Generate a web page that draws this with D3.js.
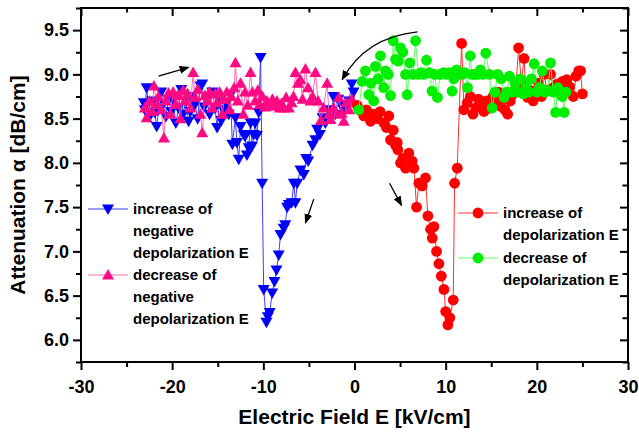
<!DOCTYPE html>
<meta charset="utf-8">
<style>
  body { margin: 0; background: #fff; }
  svg text { font-family: "Liberation Sans", Arial, sans-serif; font-weight: bold; fill: #000; }
</style>
<div id="chart"></div>
<script src="https://d3js.org/d3.v7.min.js"></script>
<script>
// increase of negative depolarization E  (blue, field swept 0 -> -23)
const incNeg = [
  [-0.1,8.8],[-0.3,8.89],[-0.6,8.7],[-0.9,8.62],[-1.2,8.6],[-1.5,8.66],[-1.8,8.72],[-2.1,8.55],
  [-2.3,8.75],[-2.6,8.5],[-2.9,8.6],[-3.2,8.45],[-3.5,8.51],[-3.8,8.32],[-4.1,8.38],[-4.3,8.26],
  [-4.6,8.2],[-5.08,8.02],[-5.3,8.05],[-5.56,7.87],[-5.93,7.92],[-6.29,7.77],[-6.48,7.55],[-6.66,7.77],
  [-6.9,7.55],[-7.2,7.53],[-7.39,7.5],[-7.6,7.3],[-7.76,7.26],[-8.12,7.19],[-8.31,6.96],[-8.56,6.79],
  [-8.78,6.66],[-9.03,6.53],[-9.3,6.31],[-9.5,6.26],[-9.66,6.2],[-9.96,6.57],[-10.13,7.77],[-10.3,9.19],
  [-10.5,8.57],[-10.7,8.31],[-10.9,8.45],[-11.05,8.32],[-11.23,8.19],[-11.4,8.45],[-11.6,8.17],[-11.8,8.09],
  [-12.0,8.3],[-12.15,8.32],[-12.5,8.41],[-12.7,8.04],[-12.9,8.23],[-13.06,8.51],[-13.4,8.21],[-13.6,8.77],
  [-13.8,8.55],[-14.1,8.66],[-14.35,8.6],[-14.6,8.48],[-14.8,8.7],[-15.07,8.4],[-15.3,8.62],[-15.6,8.8],
  [-15.9,8.55],[-16.2,8.72],[-16.5,8.63],[-16.7,8.89],[-16.9,8.87],[-17.2,8.5],[-17.5,8.66],[-17.8,8.75],
  [-18.0,8.58],[-18.2,8.47],[-18.5,8.7],[-18.8,8.55],[-19.0,8.83],[-19.3,8.62],[-19.6,8.45],[-19.9,8.7],
  [-20.1,8.58],[-20.4,8.72],[-20.7,8.52],[-21.0,8.66],[-21.2,8.8],[-21.5,8.6],[-21.7,8.41],[-21.9,8.57],
  [-22.2,8.7],[-22.5,8.52],[-22.8,8.85],[-23.0,8.6],[-23.1,8.68]
];

// decrease of negative depolarization E  (pink, -23 -> 0)
const decNeg = [
  [-23.0,8.62],[-22.8,8.51],[-22.5,8.7],[-22.2,8.58],[-22.0,8.87],[-21.7,8.66],[-21.5,8.75],[-21.2,8.6],
  [-20.9,8.28],[-20.7,8.7],[-20.4,8.79],[-20.2,8.55],[-19.9,8.8],[-19.6,8.66],[-19.4,8.76],[-19.1,8.5],
  [-18.8,8.82],[-18.6,8.7],[-18.3,8.78],[-18.0,8.62],[-17.7,9.02],[-17.5,8.74],[-17.2,8.83],[-16.9,8.55],
  [-16.7,8.34],[-16.4,8.76],[-16.1,8.7],[-15.9,8.8],[-15.6,8.62],[-15.3,8.78],[-15.1,8.68],[-14.8,8.8],
  [-14.5,8.55],[-14.3,8.72],[-14.0,8.8],[-13.7,8.6],[-13.5,8.75],[-13.2,8.85],[-13.06,9.13],[-12.8,8.7],
  [-12.5,8.9],[-12.2,8.55],[-12.0,8.8],[-11.7,8.65],[-11.4,9.02],[-11.2,8.8],[-10.9,8.7],[-10.6,8.82],
  [-10.4,8.66],[-10.1,8.75],[-9.8,8.63],[-9.6,8.7],[-9.3,8.66],[-9.0,8.72],[-8.8,8.64],[-8.5,8.7],
  [-8.2,8.62],[-8.0,8.67],[-7.76,8.62],[-7.5,8.74],[-7.2,8.62],[-6.9,8.68],[-6.7,8.75],[-6.48,9.02],
  [-6.2,8.9],[-5.93,8.94],[-5.7,8.72],[-5.38,9.06],[-5.1,8.85],[-4.83,8.7],[-4.6,8.75],[-4.28,9.02],
  [-4.0,8.7],[-3.7,8.48],[-3.4,8.62],[-3.0,8.9],[-2.8,8.55],[-2.63,8.49],[-2.3,8.62],[-2.0,8.55],
  [-1.72,8.74],[-1.4,8.56],[-1.17,8.47],[-0.9,8.68],[-0.6,8.6],[-0.3,8.72]
];

// increase of depolarization E  (red, 0 -> 25)
const incPos = [
  [0.3,8.65],[0.77,8.58],[1.02,8.53],[1.3,8.6],[1.76,8.47],[2.0,8.55],[2.5,8.5],[2.8,8.58],
  [3.22,8.45],[3.5,8.4],[3.77,8.53],[3.95,8.26],[4.25,8.37],[4.5,8.2],[4.69,8.23],[4.75,8.15],
  [5.05,8.0],[5.3,8.05],[5.6,7.94],[5.96,8.11],[6.33,8.02],[6.51,7.94],[6.81,7.5],[7.06,7.77],
  [7.43,7.74],[7.79,7.83],[8.05,7.4],[8.34,7.25],[8.53,7.15],[8.71,7.28],[9.0,7.0],[9.26,6.86],
  [9.52,6.72],[9.81,6.57],[10.0,6.32],[10.24,6.17],[10.46,6.25],[10.83,6.45],[10.98,7.77],[11.27,7.94],
  [11.75,9.35],[12.0,8.6],[12.37,8.68],[12.7,8.75],[13.0,8.55],[13.3,8.62],[13.6,8.72],[14.0,8.66],
  [14.2,8.58],[14.5,8.7],[14.9,8.62],[15.2,8.75],[15.5,8.66],[15.8,8.8],[16.0,8.64],[16.3,8.72],
  [16.5,8.6],[16.8,8.55],[17.1,8.7],[17.4,8.78],[17.7,8.85],[18.0,9.3],[18.3,8.9],[18.6,9.18],
  [18.8,8.8],[19.0,8.74],[19.3,8.82],[19.6,8.7],[19.9,8.78],[20.2,8.9],[20.5,8.75],[20.8,9.0],
  [21.1,8.82],[21.5,9.0],[21.8,8.85],[22.2,8.89],[22.5,8.8],[22.8,8.92],[23.1,8.85],[23.3,8.94],
  [23.6,8.86],[24.0,8.75],[24.3,8.98],[24.6,9.04],[24.8,9.04],[25.0,8.78]
];

// decrease of depolarization E  (green, 23 -> 0)
const decPos = [
  [23.2,8.8],[23.0,8.57],[22.8,8.75],[22.6,8.77],[22.3,8.85],[22.06,8.57],[21.8,8.8],[21.5,9.13],
  [21.2,8.82],[20.9,8.8],[20.6,9.04],[20.3,8.85],[20.0,8.8],[19.7,9.12],[19.4,8.95],[19.1,8.8],
  [18.8,8.86],[18.5,8.78],[18.2,8.95],[17.9,8.8],[17.6,8.9],[17.3,8.8],[17.0,8.98],[16.7,8.8],
  [16.4,8.74],[16.1,8.95],[15.7,9.0],[15.4,8.8],[15.1,8.62],[14.8,9.0],[14.4,9.24],[14.1,9.0],
  [13.8,9.05],[13.5,9.0],[13.2,9.0],[12.9,9.0],[12.7,9.21],[12.4,8.85],[12.1,9.02],[11.8,9.0],
  [11.5,9.02],[11.2,9.05],[10.9,8.95],[10.7,8.81],[10.4,9.02],[10.1,9.0],[9.8,9.02],[9.4,9.0],
  [9.1,8.74],[8.8,9.0],[8.5,8.81],[8.2,9.02],[7.9,9.16],[7.6,9.0],[7.3,9.02],[7.0,9.0],
  [6.7,9.38],[6.4,9.0],[6.07,9.13],[5.78,8.77],[5.6,9.0],[5.3,9.25],[5.05,9.3],[4.8,9.15],
  [4.5,9.17],[4.25,9.38],[3.95,8.76],[3.7,9.0],[3.4,9.04],[3.2,8.85],[2.85,9.21],[2.6,8.95],
  [2.3,9.09],[2.1,8.7],[1.8,8.9],[1.57,8.77],[1.2,9.04],[0.84,8.92],[0.47,8.6]
];

const xMajor = [-30, -20, -10, 0, 10, 20, 30];
const xMinor = [-25, -15, -5, 5, 15, 25];
const yMajor = [6.0, 6.5, 7.0, 7.5, 8.0, 8.5, 9.0, 9.5];
const yMinor = [5.75, 6.25, 6.75, 7.25, 7.75, 8.25, 8.75, 9.25, 9.75];

// arrows in data units (+ control point for the curved one)
const arrows = [
  {from: [-21.5, 8.98], to: [-18.2, 9.08]},
  {from: [6.91, 9.48], ctrl: [1.2, 9.42], to: [-1.35, 8.94]},
  {from: [-4.47, 7.59], to: [-5.38, 7.32]},
  {from: [3.84, 7.77], to: [5.16, 7.52]}
];

const width = 639, height = 434;
const margin = {top: 8, right: 11, bottom: 72, left: 81};

const x = d3.scaleLinear().domain([-30, 30]).range([margin.left, width - margin.right]);
const y = d3.scaleLinear().domain([5.75, 9.75]).range([height - margin.bottom, margin.top]);

const svg = d3.select("#chart").append("svg")
    .attr("width", width).attr("height", height);

svg.append("defs").append("marker")
    .attr("id", "head")
    .attr("viewBox", "0 0 10 10")
    .attr("refX", 9).attr("refY", 5)
    .attr("markerWidth", 10).attr("markerHeight", 10)
    .attr("markerUnits", "userSpaceOnUse")
    .attr("orient", "auto")
  .append("path")
    .attr("d", "M0,1 L10,5 L0,9 Z")
    .attr("fill", "#000");

const series = [
  {data: incNeg, fill: "#0000ff", line: "#3c3cff", shape: "down"},
  {data: decNeg, fill: "#ff0a84", line: "#ff6ab4", shape: "up"},
  {data: incPos, fill: "#ff0000", line: "#ff3030", shape: "circle"},
  {data: decPos, fill: "#00ee00", line: "#60ff60", shape: "circle"}
];

const shapes = {
  down: "M0,6 L6,-4.5 L-6,-4.5 Z",
  up: "M0,-6 L6,4.5 L-6,4.5 Z"
};

function drawMarker(g, shape, fill) {
  if (shape === "circle") {
    g.append("circle").attr("r", 5.4).attr("fill", fill);
  } else {
    g.append("path").attr("d", shapes[shape]).attr("fill", fill);
  }
}

const line = d3.line().x(d => x(d[0])).y(d => y(d[1]));

series.forEach(s => {
  const g = svg.append("g");
  g.append("path")
      .attr("d", line(s.data))
      .attr("fill", "none")
      .attr("stroke", s.line)
      .attr("stroke-width", 1);
  g.selectAll("g.pt")
    .data(s.data)
    .join("g")
      .attr("class", "pt")
      .attr("transform", d => `translate(${x(d[0])},${y(d[1])})`)
      .each(function() { drawMarker(d3.select(this), s.shape, s.fill); });
});

// axes
const axisStyle = g => {
  g.select(".domain").remove();
  g.selectAll(".tick line").attr("stroke", "#000").attr("stroke-width", 2);
  g.selectAll(".tick text")
      .attr("font-size", 18)
      .attr("font-family", "Liberation Sans, Arial, sans-serif")
      .attr("font-weight", "bold");
};

const bottom = height - margin.bottom, right = width - margin.right;

svg.append("g").attr("transform", `translate(0,${bottom})`)
    .call(d3.axisBottom(x).tickValues(xMajor).tickSize(8).tickPadding(10).tickFormat(d => String(d)))
    .call(axisStyle);
svg.append("g").attr("transform", `translate(0,${bottom})`)
    .call(d3.axisBottom(x).tickValues(xMinor).tickSize(5).tickFormat(""))
    .call(axisStyle);
svg.append("g").attr("transform", `translate(${margin.left},0)`)
    .call(d3.axisLeft(y).tickValues(yMajor).tickSize(8).tickPadding(4).tickFormat(d3.format(".1f")))
    .call(axisStyle);
svg.append("g").attr("transform", `translate(${margin.left},0)`)
    .call(d3.axisLeft(y).tickValues(yMinor).tickSize(5).tickFormat(""))
    .call(axisStyle);
// top and right: ticks pointing inward, no labels
svg.append("g").attr("transform", `translate(0,${margin.top})`)
    .call(d3.axisBottom(x).tickValues(xMajor).tickSize(8).tickFormat(""))
    .call(axisStyle);
svg.append("g").attr("transform", `translate(0,${margin.top})`)
    .call(d3.axisBottom(x).tickValues(xMinor).tickSize(4.5).tickFormat(""))
    .call(axisStyle);
svg.append("g").attr("transform", `translate(${right},0)`)
    .call(d3.axisLeft(y).tickValues(yMajor).tickSize(8).tickFormat(""))
    .call(axisStyle);
svg.append("g").attr("transform", `translate(${right},0)`)
    .call(d3.axisLeft(y).tickValues(yMinor).tickSize(5.5).tickFormat(""))
    .call(axisStyle);

svg.append("rect")
    .attr("x", margin.left).attr("y", margin.top)
    .attr("width", right - margin.left).attr("height", bottom - margin.top)
    .attr("fill", "none").attr("stroke", "#000").attr("stroke-width", 2);

// axis titles
svg.append("text")
    .attr("x", (margin.left + right) / 2)
    .attr("y", 424)
    .attr("text-anchor", "middle")
    .attr("font-size", 21)
    .text("Electric Field E [kV/cm]");
svg.append("text")
    .attr("transform", `translate(25,${(margin.top + bottom) / 2}) rotate(-90)`)
    .attr("text-anchor", "middle")
    .attr("font-size", 21)
    .text("Attenuation \u03b1 [dB/cm]");

// arrows
arrows.forEach(a => {
  const p0 = [x(a.from[0]), y(a.from[1])], p1 = [x(a.to[0]), y(a.to[1])];
  const path = d3.path();
  path.moveTo(p0[0], p0[1]);
  if (a.ctrl) path.quadraticCurveTo(x(a.ctrl[0]), y(a.ctrl[1]), p1[0], p1[1]);
  else path.lineTo(p1[0], p1[1]);
  svg.append("path")
      .attr("d", path.toString())
      .attr("fill", "none")
      .attr("stroke", "#000")
      .attr("stroke-width", 1.3)
      .attr("marker-end", "url(#head)");
});

// legends
const legends = [
  {x: 88, y: 209, s: series[0], lines: ["increase of", "negative", "depolarization E"]},
  {x: 88, y: 275, s: series[1], lines: ["decrease of", "negative", "depolarization E"]},
  {x: 458, y: 213, s: series[2], lines: ["increase of", "depolarization E"]},
  {x: 458, y: 258, s: series[3], lines: ["decrease of", "depolarization E"]}
];

legends.forEach(l => {
  const g = svg.append("g").attr("transform", `translate(${l.x},${l.y})`);
  g.append("line").attr("x1", 0).attr("x2", 40).attr("y1", 0).attr("y2", 0)
      .attr("stroke", l.s.line).attr("stroke-width", 1);
  drawMarker(g.append("g").attr("transform", "translate(20,0)"), l.s.shape, l.s.fill);
  g.selectAll("text")
    .data(l.lines)
    .join("text")
      .attr("x", 45)
      .attr("y", (d, i) => i * 22 + 5)
      .attr("font-size", 15)
      .text(d => d);
});
</script>
